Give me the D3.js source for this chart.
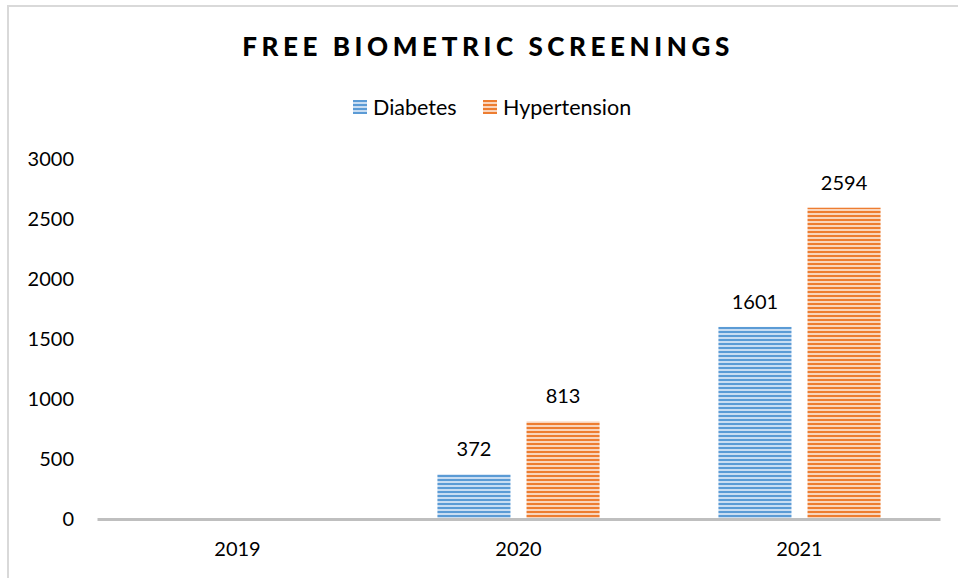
<!DOCTYPE html>
<html>
<head>
<meta charset="utf-8">
<script src="https://cdn.jsdelivr.net/npm/d3@7"></script>
<style>
  body { margin: 0; background: #fff; }
  svg { display: block; font-family: Lato, "Open Sans", sans-serif; }
</style>
</head>
<body>
<script>
// chart values
const years = ["2019", "2020", "2021"];
const seriesNames = ["Diabetes", "Hypertension"];
const diabetes = [0, 372, 1601];
const hypertension = [0, 813, 2594];
const yTicks = [0, 500, 1000, 1500, 2000, 2500, 3000];

const colors = { Diabetes: "#5b9bd5", Hypertension: "#ed7d31" };
const lightColors = { Diabetes: "#c9ddf2", Hypertension: "#f9d5bd" };

var W = 958, H = 578;
var margin = {top: 159, right: 18, bottom: 59, left: 97},
    width = W - margin.left - margin.right,
    height = H - margin.top - margin.bottom;

var svg = d3.select("body").append("svg")
    .attr("width", W)
    .attr("height", H);

// stripe patterns
var defs = svg.append("defs");
seriesNames.forEach(function(s) {
  var p = defs.append("pattern")
      .attr("id", "stripe-" + s)
      .attr("patternUnits", "userSpaceOnUse")
      .attr("width", 8).attr("height", 4);
  p.append("rect").attr("width", 8).attr("height", 4).attr("fill", lightColors[s]);
  p.append("rect").attr("width", 8).attr("height", 2).attr("fill", colors[s]);
});

// outer frame
svg.append("rect")
    .attr("x", 8).attr("y", 6)
    .attr("width", W + 10).attr("height", H + 10)
    .attr("fill", "none")
    .attr("stroke", "#d9d9d9")
    .attr("stroke-width", 2);

// title
svg.append("text")
    .attr("x", 488).attr("y", 56)
    .attr("text-anchor", "middle")
    .style("font-size", "26px")
    .style("font-weight", "900")
    .style("letter-spacing", "4.6px")
    .text("FREE BIOMETRIC SCREENINGS");

// legend
var legend = svg.append("g");
var legendItems = [
  {name: "Diabetes", x: 353},
  {name: "Hypertension", x: 483}
];
legendItems.forEach(function(d) {
  legend.append("rect")
      .attr("x", d.x).attr("y", 100)
      .attr("width", 14).attr("height", 14)
      .attr("fill", "url(#stripe-" + d.name + ")");
  legend.append("text")
      .attr("x", d.x + 20).attr("y", 115)
      .style("font-size", "21.5px")
      .attr("fill", "#000")
      .text(d.name);
});

var g = svg.append("g")
    .attr("transform", "translate(" + margin.left + "," + margin.top + ")");

var x0 = d3.scaleBand().domain(years).range([0, width]);
var x1 = d3.scaleBand().domain(seriesNames)
    .range([x0.bandwidth() * 0.2115, x0.bandwidth() * 0.7885])
    .paddingInner(0.18);
var y = d3.scaleLinear().domain([0, 3000]).range([height, 0]);

// y axis labels (no line)
var yAxis = g.append("g")
    .call(d3.axisLeft(y).tickValues(yTicks).tickFormat(d3.format("d"))
      .tickSize(0).tickPadding(23));
yAxis.select(".domain").remove();
yAxis.selectAll("text")
    .style("font-size", "20px")
    .style("font-family", "Lato, 'Open Sans', sans-serif")
    .attr("fill", "#000");

var data = years.map(function(yr, i) {
  return {year: yr, values: [
    {name: "Diabetes", value: diabetes[i]},
    {name: "Hypertension", value: hypertension[i]}
  ]};
});

var groups = g.selectAll(".year")
  .data(data)
  .enter().append("g")
    .attr("transform", function(d) { return "translate(" + x0(d.year) + ",0)"; });

groups.selectAll("rect")
  .data(function(d) { return d.values.filter(function(v) { return v.value > 0; }); })
  .enter().append("rect")
    .attr("x", function(d) { return x1(d.name); })
    .attr("y", function(d) { return y(d.value); })
    .attr("width", x1.bandwidth())
    .attr("height", function(d) { return height - y(d.value); })
    .attr("fill", function(d) { return "url(#stripe-" + d.name + ")"; });

groups.selectAll(".lbl")
  .data(function(d) { return d.values.filter(function(v) { return v.value > 0; }); })
  .enter().append("text")
    .attr("x", function(d) { return x1(d.name) + x1.bandwidth() / 2; })
    .attr("y", function(d) { return y(d.value) - 18; })
    .attr("text-anchor", "middle")
    .style("font-size", "20px")
    .attr("fill", "#000")
    .text(function(d) { return d.value; });

// x axis
var xAxis = g.append("g")
    .attr("transform", "translate(0," + height + ")")
    .call(d3.axisBottom(x0).tickSize(0).tickPadding(23));
xAxis.select(".domain")
    .attr("stroke", "#bfbfbf")
    .attr("stroke-width", 3);
xAxis.selectAll("text")
    .style("font-size", "20px")
    .style("font-family", "Lato, 'Open Sans', sans-serif")
    .attr("fill", "#000");
</script>
</body>
</html>
